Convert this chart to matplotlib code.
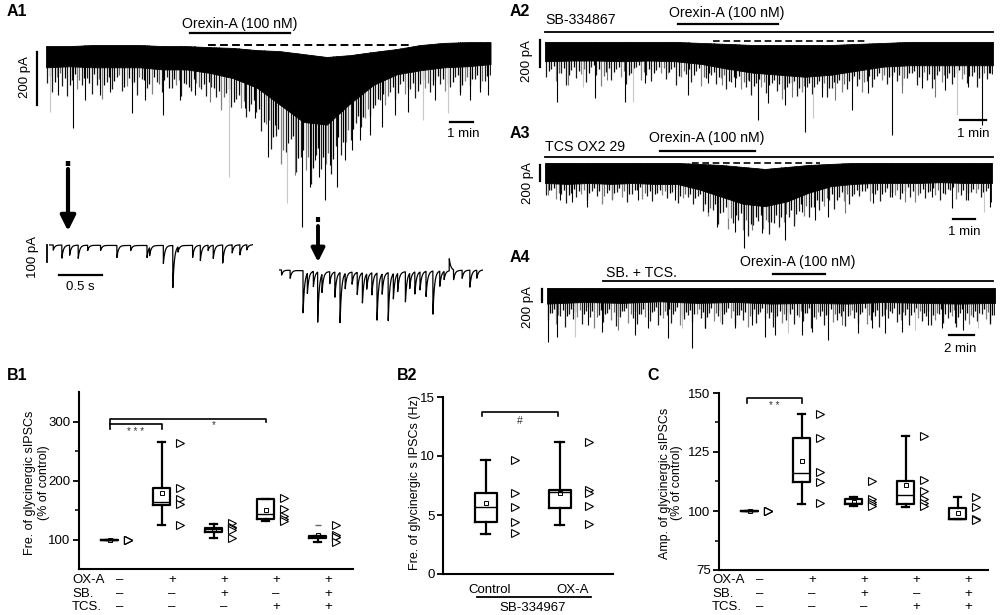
import numpy as np
import matplotlib
matplotlib.use('Agg')
import matplotlib.pyplot as plt
from matplotlib import transforms

plt.rcParams['font.family'] = ['Liberation Sans', 'DejaVu Sans']

# ---------------- Trace data (time in min, current in pA) ----------------
a1_env_t = [0, 1, 2, 3, 4, 5, 6, 7, 8, 9, 10, 11, 12, 13, 14, 15, 16, 17, 18, 19]
a1_top = [-4, -4, 0, 0, 0, -4, -4, -8, -11, -19, -23, -34, -45, -38, -26, -15, 0, 8, 11, 11]
a1_bot = [-84, -80, -84, -84, -84, -92, -92, -105, -125, -160, -225, -290, -300, -220, -150, -110, -95, -84, -80, -72]
a1_spk_t = [0.17, 0.51, 1.15, 1.67, 2.31, 2.74, 3.68, 4.23, 5.0, 5.73, 6.37, 7.0, 7.82, 8.5, 8.93, 9.49, 9.79,
            10.3, 10.64, 10.94, 11.28, 11.5, 11.67, 11.92, 12.14, 12.44, 12.78, 13.08, 13.42, 13.85, 14.36, 14.91,
            15.47, 16.1, 16.62, 17.18, 17.69, 18.12, 18.55, 18.89]
a1_spk_d = [-253, -189, -313, -207, -189, -177, -256, -207, -264, -207, -189, -215, -498, -237, -275, -422, -302,
            -596, -490, -686, -535, -434, -498, -584, -452, -535, -434, -396, -358, -339, -309, -264,
            -253, -283, -207, -256, -189, -207, -177, -189]
a1_spk_s = [2, 0, 0, 0, 0, 0, 0, 0, 0, 0, 0, 1, 2, 0, 0, 0, 0, 2, 1, 0, 0, 0, 0, 0, 0, 0, 0, 0, 0, 0, 0, 0,
            0, 2, 0, 2, 0, 0, 0, 0]
# small background events: depth below the dense band (pA), negative sign = grey trace segment
a1_grass = [60, 95, -40, 75, 110, 50, -85, 70, 40, 100, 65, -120, 55, 80, 35, 90, -70, 60, 105, 45, 75, -95,
            50, 85, 30, 70, -60, 100, 55, 80, -45, 65, 90, 50,
            85, -130, 60, 110, 75, -100, 125, 70, 95,
            150, -110, 190, 130, -220, 160, 100, 210, 140, -180, 230, 120, 170, -150, 200, 110, 160, -130, 140,
            90, 120, -100, 110, 80,
            70, -95, 55, 90, 40, -80, 65, 100, 50, -70, 85, 45, 60, -90, 75, 40, 95, -55, 70, 50, -85, 60, 40]
a1_grass2 = [35, 55, -25, 45, 70, 30, -50, 40, 60, 25, -45, 65, 35, 50, -30, 75, 40, 55, -35, 45, 60, 30, -55,
             40, 70, 35, -40, 50, 65, 30, -60, 45, 35, 55,
             60, -80, 45, 90, 55, -70, 100, 50, 75,
             110, -90, 140, 95, -160, 120, 80, 150, 105, -130, 170, 90, 125, -110, 150, 85, 120, -95, 105, 70, 90,
             -75, 85, 60,
             50, -65, 40, 70, 30, -55, 45, 75, 35, -50, 60, 30, 45, -65, 55, 30, 70, -40, 50, 35, -60, 45]

a2_env_t = [0, 1, 2, 3, 4, 5, 6, 7, 8, 9, 10, 11, 12, 13, 14, 15, 16, 17, 17.23]
a2_top = [-7, -7, -7, -7, -7, -7, -15, -22, -30, -30, -30, -30, -22, -15, -7, -7, -7, -7, -7]
a2_bot = [-150, -145, -145, -150, -145, -150, -170, -205, -235, -250, -265, -250, -220, -190, -180, -180, -180, -180, -180]
a2_spk_t = [0.46, 0.88, 1.46, 1.92, 2.38, 3.08, 3.38, 3.85, 4.73, 5.5, 6.27, 6.81, 7.31, 7.81, 8.19, 8.58, 9.23,
            9.5, 10.0, 10.31, 10.65, 11.15, 11.81, 12.42, 13.35, 13.73, 14.5, 15.0, 15.38, 15.85, 16.27, 16.81, 17.12]
a2_spk_d = [-451, -326, -340, -422, -289, -451, -451, -311, -237, -400, -311, -326, -340, -289, -585, -459, -474,
            -414, -673, -570, -414, -437, -511, -385, -696, -385, -348, -414, -363, -548, -340, -622, -237]
a2_spk_s = [0, 1, 2, 0, 1, 0, 2, 0, 1, 0, 0, 1, 0, 1, 0, 0, 0, 1, 0, 2, 0, 1, 0, 0, 0, 1, 0, 1, 0, 2, 0, 0, 0]
a2_grass = [120, 60, -150, 90, 180, 70, 130, -100, 160, 50, 110, -190, 80, 140, 60, -120, 170, 90, 45, -140, 110,
            150, 70, -90, 130, 60, 175, -110, 85, 140, 55, -160, 100, 70, 125, -80, 150, 95, 60, -135, 110, 170, 75,
            -100, 140, 65, 120, -175, 90, 55, 150, -115, 80, 130, 60, -95, 165, 100, 70, -140, 120, 55, 110, -160,
            85, 140, 65, -100, 130, 75, 115, -150, 90, 60, 145, -85, 110, 170, 70, -125, 95, 140, 55, -105, 130,
            80, 160, -90, 100, 65]
a2_grass2 = [70, 40, -90, 55, 110, 45, 80, -60, 95, 35, 65, -115, 50, 85, 40, -75, 100, 55, 30, -85, 65, 90, 45,
             -55, 80, 40, 105, -65, 50, 85, 35, -95, 60, 45, 75, -50, 90, 55, 40, -80, 65, 100, 45, -60, 85, 40, 70,
             -105, 55, 35, 90, -70, 50, 80, 40, -55, 100, 60, 45, -85, 70, 35, 65, -95, 50, 85, 40, -60, 80, 45, 70,
             -90, 55, 40, 85, -50, 65, 100, 45, -75, 55, 85, 35, -65, 80, 50, 95, -55, 60]

a3_env_t = [0, 1, 2, 3, 4, 5, 6, 7, 8, 9, 10, 11, 12, 13, 14, 15, 16, 17, 18, 19, 20, 20.32]
a3_top = [0, 0, 0, 0, 0, 0, 0, -12, -25, -50, -75, -50, -25, -12, 0, 0, 0, 0, 0, 0, 0, 0]
a3_bot = [-250, -262, -250, -262, -250, -262, -262, -330, -420, -510, -540, -480, -370, -290, -262, -250, -250,
          -250, -240, -250, -250, -250]
a3_spk_t = [0.14, 0.68, 1.23, 1.91, 3.05, 4.23, 5.91, 7.41, 7.82, 8.32, 8.64, 9.05, 9.41, 9.86, 10.14, 10.91,
            11.36, 11.68, 12.27, 12.86, 13.64, 14.91, 15.77, 16.36, 17.59, 18.5, 19.23, 19.95, 20.23]
a3_spk_d = [-400, -462, -488, -550, -462, -462, -462, -612, -800, -688, -862, -1062, -838, -875, -738, -962,
            -738, -612, -712, -675, -625, -500, -425, -488, -425, -562, -462, -612, -550]
a3_spk_s = [1, 0, 0, 0, 1, 0, 0, 0, 0, 2, 0, 0, 1, 0, 1, 0, 2, 0, 0, 0, 1, 0, 0, 1, 0, 0, 0, 2, 0]
a3_grass = [150, 90, -200, 130, 240, 110, 170, -130, 210, 95, 160, -250, 120, 190, 100, -170, 230, 140, 85, -190,
            150, 210, 115, -140, 180, 100, 240, -160, 130, 200, 90,
            260, -300, 200, 350, 180, -380, 280, 220, -330, 400, 250, 190, -290, 360, 230, 300, -250, 210, 340, 180,
            -270, 310, 200, 250, -220, 170, 290, 150, -200, 240, 130,
            160, 100, -220, 140, 230, 110, 180, -150, 200, 95, 170, -240, 125, 190, 105, -160, 220, 140, 90, -200,
            150, 210, 115, -130, 180, 100, 240]
a3_grass2 = [90, 55, -120, 80, 140, 65, 100, -80, 125, 60, 95, -150, 75, 115, 60, -100, 135, 85, 50, -115, 90, 125,
             70, -85, 110, 60, 145, -95, 80, 120, 55,
             160, -180, 120, 210, 110, -230, 170, 130, -200, 240, 150, 115, -175, 215, 140, 180, -150, 125, 205, 110,
             -160, 185, 120, 150, -130, 100, 175, 90, -120, 145, 80,
             95, 60, -130, 85, 140, 65, 110, -90, 120, 55, 100, -145, 75, 115, 65, -95, 130, 85, 55, -120, 90, 125,
             70, -80, 110, 60]

a4_env_t = [0, 3, 6, 9, 12, 15, 18, 21, 24, 27, 30, 33, 35.84]
a4_top = [0, 0, 0, 0, 0, 0, 0, 0, 0, 0, 0, 0, 0]
a4_bot = [-240, -215, -230, -205, -230, -215, -240, -230, -240, -215, -230, -240, -230]
a4_spk_t = [0.08, 0.8, 2.24, 3.28, 4.4, 5.68, 7.04, 8.08, 9.68, 10.8, 11.6, 12.64, 13.84, 15.04, 16.4, 17.44,
            18.24, 19.28, 20.4, 21.2, 22.48, 23.6, 24.88, 26.0, 27.04, 28.4, 29.44, 30.48, 31.6, 32.64, 33.28,
            34.48, 35.44]
a4_spk_d = [-832, -755, -755, -570, -678, -647, -724, -616, -770, -616, -924, -616, -524, -616, -570, -755,
            -724, -693, -724, -678, -801, -570, -693, -616, -693, -678, -647, -570, -616, -539, -647, -616, -539]
a4_spk_s = [0, 0, 2, 0, 0, 1, 0, 0, 0, 2, 0, 0, 2, 0, 0, 0, 0, 2, 0, 0, 0, 1, 0, 0, 0, 0, 2, 0, 0, 0, 0, 2, 0]
a4_grass = [250, 150, -320, 200, 380, 170, 260, -220, 340, 140, 230, -400, 190, 300, 160, -270, 360, 210, 130,
            -310, 240, 330, 180, -230, 290, 150, 370, -250, 200, 320, 140, -350, 260, 190, 300, -170, 240, 390, 160,
            -280, 210, 330, 150, -240, 350, 200, 270, -380, 180, 310, 140, -260, 230, 360, 190, -300, 250, 170, 320,
            -210, 280, 150, 390, -240, 200, 330, 160, -290, 260, 190, 350, -180, 230, 300, 140, -330, 270, 210, 380,
            -200, 240, 160, 310, -270, 190, 350, 150, -230, 280, 200, 340, -260, 170, 300, 220, -190, 360, 150, 250,
            -320, 210, 280, 170, -240, 330, 190]
a4_grass2 = [140, 90, -180, 115, 210, 100, 150, -125, 190, 80, 130, -220, 110, 170, 95, -150, 200, 120, 75, -175,
             135, 185, 105, -130, 165, 90, 205, -140, 115, 180, 80, -195, 145, 110, 170, -95, 135, 215, 90, -160,
             120, 185, 85, -135, 195, 115, 150, -210, 100, 175, 80, -145, 130, 200, 110, -170, 140, 95, 180, -120,
             155, 85, 215, -135, 115, 185, 90, -165, 145, 110, 195, -100, 130, 170, 80, -185, 150, 120, 210, -115,
             135, 90, 175, -150, 105, 195, 85, -130, 155, 115, 190, -145, 95, 170, 125, -105, 200, 85, 140, -180,
             120, 155, 95, -135, 185]

# expanded insets (time in s, amplitude in pA)
ins1_base_t = [0, 0.8, 1.6, 2.37]
ins1_base = [0, -3, -3, 2]
ins1_evt_t = [0.05, 0.15, 0.24, 0.34, 0.45, 0.60, 0.79, 0.95, 1.14, 1.17, 1.33, 1.44, 1.50, 1.67, 1.76, 1.85,
              1.91, 2.02, 2.13, 2.22, 2.30]
ins1_evt_a = [30, 77, 59, 77, 30, 30, 71, 30, 71, 47, 106, 248, 30, 71, 89, 30, 77, 106, 47, 59, 30]
ins2_base_t = [0, 0.6, 1.2, 1.8, 2.37]
ins2_base = [0, -10, -15, -5, 0]
ins2_evt_t = [0.03, 0.13, 0.28, 0.33, 0.40, 0.45, 0.50, 0.59, 0.65, 0.71, 0.77, 0.85, 0.91, 0.97, 1.02, 1.08,
              1.14, 1.20, 1.27, 1.33, 1.38, 1.47, 1.52, 1.58, 1.64, 1.71, 1.79, 1.87, 1.92, 1.98, 2.03, 2.13,
              2.22, 2.30]
ins2_evt_a = [30, 47, 248, 118, 89, 295, 106, 71, 148, 295, 89, 71, 130, 177, 89, 130, 277, 118, 283, 148, 106,
              177, 89, 130, 106, 148, 254, 89, 47, -71, 59, 47, 100, 47]

# ---------------- Box plot data ----------------
grp_oxa = ['–', '+', '+', '+', '+']
grp_sb = ['–', '–', '+', '–', '+']
grp_tcs = ['–', '–', '–', '+', '+']

b1_q1 = [100, 158, 112, 135, 103]
b1_med = [100, 164, 117, 144, 104]
b1_q3 = [100, 187, 120, 168, 106]
b1_lo = [100, 124, 103, 132, 96]
b1_hi = [100, 265, 127, 168, 106]
b1_mean = [100, 178, 117, 150, 108]
b1_pts = [[100, 100, 100, 100, 100], [264, 187, 168, 160, 124], [128, 122, 120, 116, 103],
          [170, 151, 139, 135, 131], [124, 107, 104, 104, 96]]

b2_cats = ['Control', 'OX-A']
b2_q1 = [4.43, 5.6]
b2_med = [5.7, 6.95]
b2_q3 = [6.9, 7.12]
b2_lo = [3.39, 4.15]
b2_hi = [9.7, 11.2]
b2_mean = [6.0, 6.9]
b2_pts = [[9.7, 6.9, 5.7, 4.4, 3.45], [11.2, 7.15, 6.9, 5.75, 4.2]]

c_q1 = [100, 112.2, 103, 102.9, 96.5]
c_med = [100, 116.3, 103.5, 106.8, 96.5]
c_q3 = [100, 130.9, 105, 112.5, 101.2]
c_lo = [100, 102.9, 102.3, 101.9, 96.5]
c_hi = [100, 141.2, 105.8, 131.6, 105.8]
c_mean = [100, 121, 104, 111, 99.3]
c_pts = [[100, 100, 100, 100, 100], [141.2, 130.9, 116.7, 112.2, 103.3], [112.5, 105, 104, 103, 102.3],
         [131.6, 113.2, 108.3, 105, 103.3, 102.3], [105.8, 101.6, 96.5, 96]]

# ---------------- Figure ----------------
W, H = 1000, 615
fig = plt.figure(figsize=(10, 6.15), dpi=100)


def px_axes(x0, y0, x1, y1, **kw):
    return fig.add_axes([x0 / W, 1 - y1 / H, (x1 - x0) / W, (y1 - y0) / H], **kw)


SHADES = ['k', '0.45', '0.78']


def draw_grass(ax, env_t, top, bot, grass, x0, x1, color_pos, color_neg):
    gt = np.linspace(x0, x1, len(grass))
    g_top = np.interp(gt, env_t, top)
    g_depth = np.interp(gt, env_t, bot) - np.abs(grass)
    g_col = [color_pos if g > 0 else color_neg for g in grass]
    ax.vlines(gt, g_top, g_depth, colors=g_col, lw=0.9, zorder=1)


def draw_trace(ax, env_t, top, bot, st, sd, ss, grass, grass2, xlim, ylim):
    span = xlim[1] - xlim[0]
    step = (span - 0.1) / (len(grass) - 1)
    draw_grass(ax, env_t, top, bot, grass, xlim[0] + 0.05, xlim[1] - 0.05, '0.1', '0.5')
    draw_grass(ax, env_t, top, bot, grass2, xlim[0] + 0.05 + step / 2, xlim[1] - 0.05 - step / 2, '0.0', '0.4')
    top_at = np.interp(st, env_t, top)
    ax.vlines(st, top_at, sd, colors=[SHADES[s] for s in ss], lw=0.8, zorder=1)
    ax.fill_between(env_t, top, bot, color='k', lw=0.6, zorder=2)
    ax.set_xlim(*xlim)
    ax.set_ylim(*ylim)
    ax.axis('off')


def epsc(t, base_t, base_v, ev_t, ev_a, tau=0.018):
    y = np.interp(t, base_t, base_v)
    for ti, ai in zip(ev_t, ev_a):
        m = t >= ti
        y[m] -= ai * np.exp(-(t[m] - ti) / tau)
    return y


# --- A1 ---
axA1 = px_axes(46, 40, 491, 235)
draw_trace(axA1, a1_env_t, a1_top, a1_bot, a1_spk_t, a1_spk_d, a1_spk_s, a1_grass, a1_grass2, (0, 19.02), (-716, 19))
axA1.plot([6.92, 15.56], [0, 0], color='k', lw=1.4, ls=(0, (4, 2.2)), clip_on=False, zorder=3)
axA1.plot([-0.38, -0.38], [-26, -226], color='k', lw=1.6, clip_on=False)
axA1.plot([17.26, 18.26], [-290, -290], color='k', lw=1.6, clip_on=False)

# --- A2 ---
axA2 = px_axes(545, 35, 993, 140)
draw_trace(axA2, a2_env_t, a2_top, a2_bot, a2_spk_t, a2_spk_d, a2_spk_s, a2_grass, a2_grass2, (0, 17.23), (-733, 44))
axA2.plot([6.46, 12.38], [0, 0], color='k', lw=1.2, ls=(0, (4, 2.2)), clip_on=False, zorder=3)
axA2.plot([-0.19, -0.19], [7, -193], color='k', lw=1.6, clip_on=False)
axA2.plot([15.96, 16.96], [-585, -585], color='k', lw=1.6, clip_on=False)

# --- A3 ---
axA3 = px_axes(545, 158, 992, 255)
draw_trace(axA3, a3_env_t, a3_top, a3_bot, a3_spk_t, a3_spk_d, a3_spk_s, a3_grass, a3_grass2, (0, 20.32), (-1150, 62))
axA3.plot([6.68, 12.5], [0, 0], color='k', lw=1.2, ls=(0, (4, 2.2)), clip_on=False, zorder=3)
axA3.plot([-0.23, -0.23], [-25, -225], color='k', lw=1.6, clip_on=False)
axA3.plot([18.55, 19.55], [-700, -700], color='k', lw=1.6, clip_on=False)

# --- A4 ---
axA4 = px_axes(547, 283, 995, 355)
draw_trace(axA4, a4_env_t, a4_top, a4_bot, a4_spk_t, a4_spk_d, a4_spk_s, a4_grass, a4_grass2, (0, 35.84), (-1032, 77))
axA4.plot([-0.4, -0.4], [-15, -215], color='k', lw=1.6, clip_on=False)
axA4.plot([32.16, 34.16], [-724, -724], color='k', lw=1.6, clip_on=False)

# --- insets ---
tt = np.arange(0, 2.372, 0.001)
axI1 = px_axes(49, 238, 253, 292)
axI1.plot(tt, epsc(tt, ins1_base_t, ins1_base, ins1_evt_t, ins1_evt_a), color='k', lw=0.9)
axI1.set_xlim(0, 2.372)
axI1.set_ylim(-277, 41)
axI1.axis('off')
axI1.plot([-0.023, -0.023], [0, -100], color='k', lw=1.3, clip_on=False)
axI1.plot([0.116, 0.616], [-177, -177], color='k', lw=1.6, clip_on=False)

axI2 = px_axes(279, 255, 483, 325)
axI2.plot(tt, epsc(tt, ins2_base_t, ins2_base, ins2_evt_t, ins2_evt_a), color='k', lw=0.9)
axI2.set_xlim(0, 2.372)
axI2.set_ylim(-325, 88)
axI2.axis('off')


# ---------------- Box plots ----------------
def stats_list(q1, med, q3, lo, hi, mean, fliers=None):
    out = []
    for i in range(len(q1)):
        out.append(dict(q1=q1[i], med=med[i], q3=q3[i], whislo=lo[i], whishi=hi[i], mean=mean[i],
                        fliers=(fliers[i] if fliers else [])))
    return out


def draw_boxes(ax, stats, pos, pts, box_off, tri_off, width):
    ax.bxp(stats, positions=[p + box_off for p in pos], widths=width, showmeans=True, capwidths=width * 0.4,
           boxprops=dict(color='k', lw=1.6), whiskerprops=dict(color='k', lw=1.6),
           capprops=dict(color='k', lw=1.6), medianprops=dict(color='k', lw=1.0),
           meanprops=dict(marker='s', markerfacecolor='none', markeredgecolor='k', markersize=3.5,
                          markeredgewidth=0.7),
           flierprops=dict(marker='_', markeredgecolor='0.4', markersize=5), manage_ticks=False)
    for p, vals in zip(pos, pts):
        ax.plot([p + tri_off] * len(vals), vals, ls='none', marker='>', mfc='white', mec='k', ms=6.2, mew=0.8)


def style_axis(ax):
    for s in ['top', 'right']:
        ax.spines[s].set_visible(False)
    for s in ['left', 'bottom']:
        ax.spines[s].set_linewidth(1.5)
    ax.tick_params(axis='y', direction='out', length=4, width=1.3, labelsize=9.5, pad=2)
    ax.tick_params(axis='y', which='minor', direction='out', length=3, width=1.1)
    ax.set_xticks([])


pos5 = [1, 2, 3, 4, 5]

axB1 = px_axes(79, 392, 353, 569)
b1_fl = [[], [], [], [], [124]]
draw_boxes(axB1, stats_list(b1_q1, b1_med, b1_q3, b1_lo, b1_hi, b1_mean, b1_fl), pos5, b1_pts, -0.2, 0.15, 0.33)
axB1.set_xlim(0.21, 5.48)
axB1.set_ylim(50, 350)
axB1.set_yticks([100, 200, 300])
axB1.set_yticks([150, 250], minor=True)
style_axis(axB1)
axB1.plot([0.8, 0.8, 3.8, 3.8], [288, 305, 305, 300], color='k', lw=1.2, clip_on=False)
axB1.plot([0.8, 1.8, 1.8], [295, 295, 288], color='k', lw=1.2, clip_on=False)
axB1.text(1.3, 283, '* * *', ha='center', va='center', fontsize=7, color='0.2')
axB1.text(2.8, 294, '*', ha='center', va='center', fontsize=7, color='0.2')

axC = px_axes(719, 393, 988, 570)
draw_boxes(axC, stats_list(c_q1, c_med, c_q3, c_lo, c_hi, c_mean), pos5, c_pts, -0.2, 0.15, 0.33)
axC.set_xlim(0.21, 5.38)
axC.set_ylim(75, 150)
axC.set_yticks([75, 100, 125, 150])
axC.set_yticks([87.5, 112.5, 137.5], minor=True)
style_axis(axC)
axC.plot([0.75, 0.75, 1.8, 1.8], [145.8, 147.9, 147.9, 145.8], color='k', lw=1.2, clip_on=False)
axC.text(1.28, 144.6, '* *', ha='center', va='center', fontsize=7, color='0.2')

axB2 = px_axes(443, 397, 613, 574)
draw_boxes(axB2, stats_list(b2_q1, b2_med, b2_q3, b2_lo, b2_hi, b2_mean), [1, 2], b2_pts, 0.0, 0.39, 0.3)
axB2.set_xlim(0.42, 2.72)
axB2.set_ylim(0, 15)
axB2.set_yticks([0, 5, 10, 15])
style_axis(axB2)
axB2.plot([0.95, 0.95, 1.97, 1.97], [13.4, 13.73, 13.73, 13.4], color='k', lw=1.2, clip_on=False)
axB2.text(1.46, 13.0, '#', ha='center', va='center', fontsize=7.5, color='0.2')

# ---------------- Overlay text / annotations (figure pixel coords) ----------------
ov = px_axes(0, 0, 1000, 615)
ov.set_xlim(0, 1000)
ov.set_ylim(615, 0)
ov.axis('off')
ov.set_zorder(10)

for lab, x, y in [('A1', 7, 12), ('A2', 510, 12), ('A3', 510, 134), ('A4', 510, 258),
                  ('B1', 7, 376), ('B2', 397, 376), ('C', 647, 375)]:
    ov.text(x, y, lab, fontsize=11.5, fontweight='bold', ha='left', va='center')

fs_tr = 10.2
ov.text(240, 24, 'Orexin-A (100 nM)', fontsize=fs_tr, ha='center', va='center')
ov.plot([190, 290], [33, 33], color='k', lw=1.6)
ov.text(727, 13, 'Orexin-A (100 nM)', fontsize=fs_tr, ha='center', va='center')
ov.plot([678, 778], [24, 24], color='k', lw=1.6)
ov.text(545, 20, 'SB-334867', fontsize=fs_tr, ha='left', va='center')
ov.plot([545, 993], [32, 32], color='k', lw=1.3)
ov.text(707, 138, 'Orexin-A (100 nM)', fontsize=fs_tr, ha='center', va='center')
ov.plot([660, 755], [151, 151], color='k', lw=1.6)
ov.text(545, 147, 'TCS OX2 29', fontsize=fs_tr, ha='left', va='center')
ov.plot([545, 993], [157, 157], color='k', lw=1.3)
ov.text(798, 262, 'Orexin-A (100 nM)', fontsize=fs_tr, ha='center', va='center')
ov.plot([773, 825], [274, 274], color='k', lw=1.6)
ov.text(606, 273, 'SB. + TCS.', fontsize=fs_tr, ha='left', va='center')
ov.plot([603, 993], [281, 281], color='k', lw=1.3)

for txt, x, y in [('200 pA', 25, 77), ('200 pA', 527, 61), ('200 pA', 528, 183), ('200 pA', 528, 307),
                  ('100 pA', 33, 257)]:
    ov.text(x, y, txt, fontsize=9.5, rotation=90, ha='center', va='center')
for txt, x, y in [('1 min', 463, 134), ('1 min', 973, 134), ('1 min', 964, 232), ('2 min', 960, 349),
                  ('0.5 s', 80, 287)]:
    ov.text(x, y, txt, fontsize=9.5, ha='center', va='center')

# arrows
ov.plot([68, 68], [161, 166], color='k', lw=3.2, solid_capstyle='butt')
ov.annotate('', xy=(68, 231), xytext=(68, 169),
            arrowprops=dict(arrowstyle='-|>,head_length=0.9,head_width=0.45', lw=3.0, color='k',
                            shrinkA=0, shrinkB=0))
ov.plot([318, 318], [217, 222], color='k', lw=3.0, solid_capstyle='butt')
ov.annotate('', xy=(318, 262), xytext=(318, 226),
            arrowprops=dict(arrowstyle='-|>,head_length=0.8,head_width=0.4', lw=2.8, color='k',
                            shrinkA=0, shrinkB=0))

# y labels
ov.text(37, 483, 'Fre. of glycinergic sIPSCs\n(% of control)', rotation=90, fontsize=9, ha='center',
        va='center', multialignment='center', linespacing=1.2)
ov.text(671, 483, 'Amp. of glycinergic sIPSCs\n(% of control)', rotation=90, fontsize=9, ha='center',
        va='center', multialignment='center', linespacing=1.0)
ov.text(415, 483, 'Fre. of glycinergic s IPSCs (Hz)', rotation=90, fontsize=9, ha='center', va='center')

# group tables
for ax, x_lab in [(axB1, 72), (axC, 712)]:
    tr = transforms.blended_transform_factory(ax.transData, ov.transData)
    for row, signs, y in [('OX-A', grp_oxa, 580), ('SB.', grp_sb, 594), ('TCS.', grp_tcs, 607)]:
        ov.text(x_lab, y, row, fontsize=9.5, ha='left', va='center')
        for p, s in zip(pos5, signs):
            ax.text(p, y, s, transform=tr, fontsize=9.5, ha='center', va='center', clip_on=False)

# B2 categories
trB2 = transforms.blended_transform_factory(axB2.transData, ov.transData)
for p, c in zip([1.05, 2.18], b2_cats):
    axB2.text(p, 590, c, transform=trB2, fontsize=9.5, ha='center', va='center', clip_on=False)
ov.plot([477, 591], [597, 597], color='k', lw=1.3)
ov.text(533, 608, 'SB-334967', fontsize=9.5, ha='center', va='center')

fig.savefig('out.png', dpi=100)
